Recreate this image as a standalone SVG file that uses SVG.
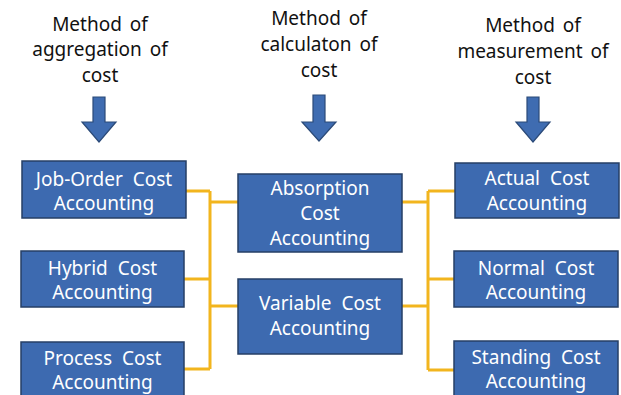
<svg xmlns="http://www.w3.org/2000/svg" width="621" height="395" viewBox="0 0 621 395">
<defs>
<style>
.title{font-family:"Noto Sans","Liberation Sans",sans-serif;font-size:19px;fill:#111;text-anchor:middle;word-spacing:3px}
.box{fill:#3D6AB0;stroke:#263F66;stroke-width:1.5}
.lbl{font-family:"Noto Sans","Liberation Sans",sans-serif;font-size:19px;fill:#fff;text-anchor:middle;word-spacing:5px}
.arrow{fill:#3F6CB1;stroke:#2B4A78;stroke-width:1.2}
.conn{fill:none;stroke:#F2B51E;stroke-width:3}
</style>
</defs>
<rect width="621" height="395" fill="#fff"/>
<g id="title-aggregation">
<text class="title" x="100" y="31">Method of</text>
<text class="title" x="100" y="56">aggregation of</text>
<text class="title" x="100" y="82">cost</text>
<path class="arrow" d="M93,97 H105 V122 H116 L99,142 L82,122 H93 Z"/>
</g>
<g id="title-calculation">
<text class="title" x="319" y="25">Method of</text>
<text class="title" x="319" y="51">calculaton of</text>
<text class="title" x="319" y="77">cost</text>
<path class="arrow" d="M313,95 H325 V122 H336 L319,141 L302,122 H313 Z"/>
</g>
<g id="title-measurement">
<text class="title" x="533" y="32">Method of</text>
<text class="title" x="533" y="58">measurement of</text>
<text class="title" x="533" y="84">cost</text>
<path class="arrow" d="M527,97 H539 V122 H550 L533,142 L516,122 H527 Z"/>
</g>
<g id="connectors">
<path class="conn" d="M186,191 H210 M184,279 H210 M184,369 H210 M210,191 V369 M210,202 H238 M210,306 H238"/>
<path class="conn" d="M402,202 H428 M402,306 H428 M428,191 V370 M428,191 H455 M428,279 H454 M428,370 H454"/>
</g>
<g id="job-order">
<rect class="box" x="22" y="161" width="164" height="57"/>
<text class="lbl" x="104" y="186">Job-Order Cost</text>
<text class="lbl" x="104" y="210">Accounting</text>
</g>
<g id="hybrid">
<rect class="box" x="21" y="251" width="163" height="56"/>
<text class="lbl" x="102.5" y="275">Hybrid Cost</text>
<text class="lbl" x="102.5" y="299">Accounting</text>
</g>
<g id="process">
<rect class="box" x="21" y="342" width="163" height="60"/>
<text class="lbl" x="102.5" y="365">Process Cost</text>
<text class="lbl" x="102.5" y="389">Accounting</text>
</g>
<g id="absorption">
<rect class="box" x="238" y="174" width="164" height="78"/>
<text class="lbl" x="320" y="195">Absorption</text>
<text class="lbl" x="320" y="220">Cost</text>
<text class="lbl" x="320" y="245">Accounting</text>
</g>
<g id="variable">
<rect class="box" x="238" y="279" width="164" height="75"/>
<text class="lbl" x="320" y="310">Variable Cost</text>
<text class="lbl" x="320" y="335">Accounting</text>
</g>
<g id="actual">
<rect class="box" x="455" y="163" width="164" height="55"/>
<text class="lbl" x="537" y="185">Actual Cost</text>
<text class="lbl" x="537" y="210">Accounting</text>
</g>
<g id="normal">
<rect class="box" x="454" y="251" width="164" height="56"/>
<text class="lbl" x="536" y="275">Normal Cost</text>
<text class="lbl" x="536" y="299">Accounting</text>
</g>
<g id="standing">
<rect class="box" x="454" y="341" width="164" height="60"/>
<text class="lbl" x="536" y="364">Standing Cost</text>
<text class="lbl" x="536" y="388">Accounting</text>
</g>
</svg>
